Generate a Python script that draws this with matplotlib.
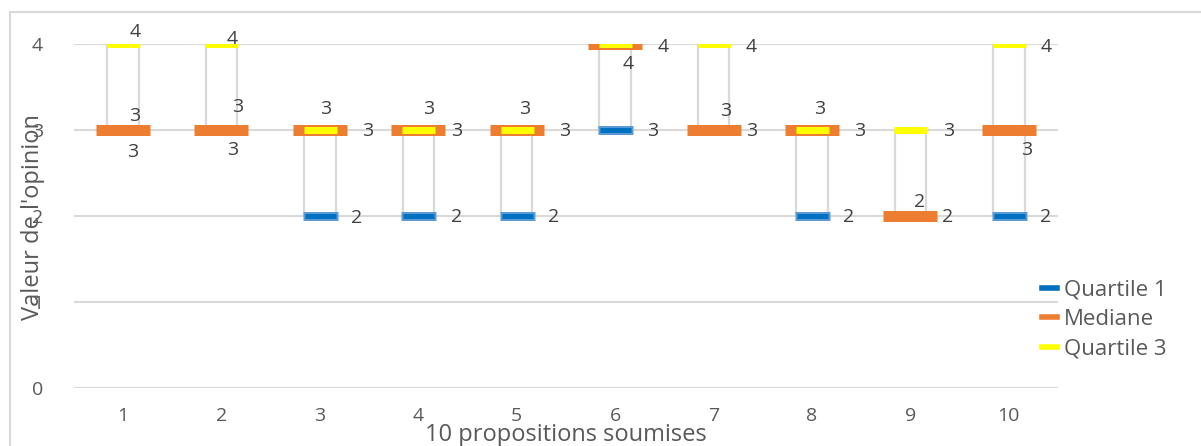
import numpy as np
import matplotlib.pyplot as plt
from matplotlib.lines import Line2D
from matplotlib.patches import Rectangle

plt.rcParams['font.family'] = ['Open Sans', 'DejaVu Sans']

propositions = [1, 2, 3, 4, 5, 6, 7, 8, 9, 10]
quartile1 = [3, 3, 2, 2, 2, 3, 3, 2, 2, 2]
mediane = [3, 3, 3, 3, 3, 4, 3, 3, 2, 3]
quartile3 = [4, 4, 3, 3, 3, 4, 4, 3, 3, 4]

# decalage des etiquettes en pixels (dx, dy) -- dy vers le haut
off_q1 = [(10, -22), (11, -20), (37, -2), (38, -1), (37, -1), (38, -1), (38, -1), (37, -1), (37, -1), (37, -1)]
off_med = [(12, 14), (16, 23), (6, 21), (10, 21), (8, 21), (13, -20), (12, 19), (8, 21), (9, 14), (18, -20)]
off_q3 = [(12, 12), (11, 5), (48, -1), (38, -1), (48, -1), (48, -3), (38, -3), (48, -1), (38, -1), (37, -3)]

c_blue = '#0070C0'
c_blue_edge = '#5B9BD5'
c_orange = '#ED7D31'
c_yellow = '#FFFF00'
c_grid = '#D9D9D9'
c_text = '#404040'
c_tick = '#595959'

fig = plt.figure(figsize=(12.01, 4.46), dpi=100)
ax = fig.add_axes([73.8/1201, (446-388)/446, (1058-73.8)/1201, (388-44.3)/446])

x = np.array(propositions)
q1 = np.array(quartile1)
q3 = np.array(quartile3)

# boite entre Q1 et Q3
ax.bar(x, q3 - q1, bottom=q1, width=0.32, fill=False, edgecolor=c_grid, linewidth=1.6, zorder=2)

px2pt = 72 / 100
ax.plot(x, quartile1, ls='none', marker='_', ms=35*px2pt, mew=9*px2pt, color=c_blue_edge, zorder=3)
ax.plot(x, quartile1, ls='none', marker='_', ms=31*px2pt, mew=5*px2pt, color=c_blue, zorder=3)
ax.plot(x, mediane, ls='none', marker='_', ms=54*px2pt, mew=11*px2pt, color=c_orange, zorder=4)
ax.plot(x, quartile3, ls='none', marker='_', ms=33*px2pt, mew=7*px2pt, color=c_yellow, zorder=5)

fs = 14
for serie, offs in [(quartile1, off_q1), (mediane, off_med), (quartile3, off_q3)]:
    for xi, v, (dx, dy) in zip(propositions, serie, offs):
        ax.annotate(str(v), (xi, v), xytext=(dx, dy), textcoords='offset pixels',
                    ha='center', va='center', fontsize=fs, color=c_text, zorder=6,
                    annotation_clip=False)

ax.set_xlim(0.5, 10.5)
ax.set_ylim(0, 4)
ax.set_xticks(propositions)
ax.set_yticks([0, 1, 2, 3, 4])
ax.tick_params(length=0, labelsize=fs, labelcolor=c_tick)
ax.tick_params(axis='y', pad=22)
ax.tick_params(axis='x', pad=14)
ax.grid(axis='y', color=c_grid, linewidth=1.5)
ax.set_axisbelow(True)
for s in ax.spines.values():
    s.set_visible(False)

fig.text(33/1201, 1 - 217/446, "Valeur de l'opinion", rotation=90, ha='center', va='center',
         fontsize=17, color=c_tick)
fig.text(566/1201, 1 - 435/446, '10 propositions soumises', ha='center', va='center',
         fontsize=17, color=c_tick)

handles = [Line2D([], [], color=c_blue, lw=4),
           Line2D([], [], color=c_orange, lw=4),
           Line2D([], [], color=c_yellow, lw=4)]
fig.legend(handles, ['Quartile 1', 'Mediane', 'Quartile 3'], loc='upper left',
           bbox_to_anchor=(1026/1201, 1 - 264/446), frameon=False, fontsize=16,
           handlelength=0.7, handletextpad=0.3, labelspacing=0.38, labelcolor=c_tick,
           borderpad=0.2)

fig.patches.append(Rectangle((10/1201, -0.05), 1.2, 1 - 12/446 + 0.05, transform=fig.transFigure,
                             fill=False, edgecolor=c_grid, linewidth=1.5))

fig.savefig('out.png', dpi=100)
